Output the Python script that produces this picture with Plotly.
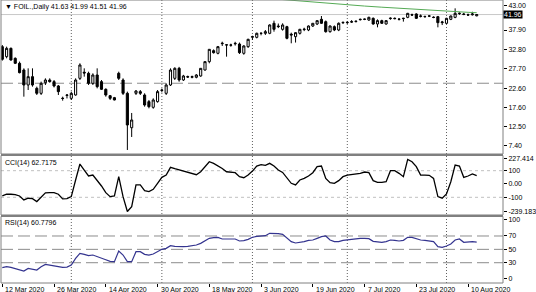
import plotly.graph_objects as go

# ---------------- data (bar index, OHLC) ----------------
opens = [33.52,30.89,33.08,30.45,29.14,27.38,23.44,25.63,22.56,21.25,
         24.05,24.75,24.32,23.18,19.95,20.70,19.93,20.81,25.19,26.80,
         26.51,23.88,26.07,24.32,22.30,20.63,20.11,26.51,24.75,21.25,
         12.20,21.25,21.69,20.81,19.06,17.57,19.06,22.00,21.25,23.44,
         25.19,27.82,24.76,25.63,25.46,25.46,25.81,27.38,29.58,32.47,
         31.77,34.30,33.96,33.90,34.40,34.22,31.77,33.52,36.00,35.97,
         37.00,37.03,37.03,39.66,38.95,38.08,38.78,36.80,36.15,37.03,
         38.00,37.90,38.95,39.48,40.71,40.09,37.46,38.78,37.90,39.80,
         39.83,40.10,40.10,40.60,40.70,40.53,40.97,39.48,40.36,39.48,
         40.90,40.97,40.70,40.90,41.23,41.90,42.11,41.60,41.40,41.60,
         41.25,41.41,39.83,39.66,40.71,41.23,42.20,42.10,41.90,41.90,
         41.63]
highs = [33.96,33.52,33.30,30.70,29.60,27.82,27.82,27.82,23.00,24.32,
         25.19,25.19,24.75,23.44,20.37,21.00,21.69,25.19,29.14,27.82,
         26.94,26.51,27.82,24.75,22.56,20.81,20.30,26.94,25.19,21.69,
         16.08,22.12,22.12,21.25,19.50,19.93,22.12,22.50,23.88,27.82,
         28.10,28.20,26.10,25.90,25.90,26.30,27.90,29.60,32.90,32.80,
         33.70,34.83,34.20,34.30,34.80,34.60,33.90,35.60,36.40,37.20,
         37.30,37.90,39.40,40.36,39.60,39.66,39.00,37.20,37.30,38.20,
         38.50,39.10,39.70,40.40,41.58,40.40,39.10,39.10,39.90,40.10,
         40.20,40.50,40.40,40.90,40.90,41.40,41.20,40.70,40.60,40.50,
         41.20,41.20,41.00,41.10,42.40,42.20,42.30,42.00,41.70,41.80,
         41.50,41.60,40.30,41.10,41.70,43.60,42.50,42.40,42.20,42.70,
         41.99]
lows = [29.84,30.45,29.84,28.95,26.50,20.37,22.12,23.00,20.81,20.81,
        23.44,24.05,22.80,20.81,19.32,19.90,19.50,20.63,24.75,25.63,
        23.44,23.44,22.56,22.12,20.37,19.50,19.40,24.75,20.81,6.35,
        9.77,20.81,20.81,17.74,17.30,17.20,18.80,21.50,20.81,23.18,
        24.75,24.30,24.50,25.30,25.20,25.20,25.60,27.20,29.14,31.70,
        31.50,33.70,30.89,33.50,33.80,31.60,31.40,33.20,35.30,35.70,
        36.50,36.60,36.80,37.46,38.40,37.73,35.45,34.40,34.60,36.70,
        37.60,37.60,38.70,39.20,39.50,37.20,37.20,37.60,37.60,39.50,
        39.50,39.80,39.90,40.40,40.50,40.30,39.30,38.60,39.50,39.30,
        40.60,40.70,40.40,40.10,41.00,41.60,40.80,41.20,41.10,41.30,
        41.00,38.60,39.20,39.50,40.50,41.00,41.90,41.80,41.60,41.70,
        41.51]
closes = [30.19,33.08,30.01,29.14,26.68,23.44,25.63,23.44,21.25,23.88,
          24.75,24.32,23.18,21.69,19.90,20.80,21.25,24.75,28.70,26.60,
          23.88,26.07,23.00,22.30,20.81,19.93,19.50,25.19,21.25,12.92,
          14.24,21.86,21.25,18.18,17.74,19.50,21.69,22.10,23.44,27.38,
          27.82,24.76,25.81,25.55,25.63,26.07,27.82,29.58,32.82,31.94,
          33.52,34.40,34.00,33.96,34.30,31.94,33.70,35.45,36.15,37.03,
          37.03,37.46,39.22,38.08,38.80,39.22,35.71,36.60,37.20,38.08,
          38.10,38.95,39.66,40.36,39.66,37.46,38.95,37.90,39.66,39.90,
          39.90,40.00,40.20,40.70,40.75,41.23,39.48,40.36,39.66,40.36,
          41.00,40.90,40.75,40.97,42.28,41.85,40.97,41.50,41.45,41.55,
          41.20,39.83,40.00,40.97,41.58,42.28,42.30,42.00,41.85,42.10,
          41.96]
bars = list(range(len(closes)))

ma_idx = [64, 68, 72, 76, 80, 84, 88, 92, 96, 100, 104, 108, 110]
ma_val = [46.0, 45.6, 45.2, 44.8, 44.5, 44.2, 43.9, 43.6, 43.3, 43.0, 42.8, 42.55, 42.45]

cci = [-90,-77,-77,-80,-90,-120,-107,-110,-132,-97,
       -67,-65,-65,-77,-112,-110,-95,30,150,105,
       60,67,30,-15,-65,-95,-90,55,-95,-207,
       -170,-7,-7,-50,-57,-40,5,50,67,125,
       115,105,95,85,80,70,92,130,167,155,
       137,117,92,87,85,55,47,67,97,135,
       145,140,155,135,105,87,42,5,-7,30,
       42,60,85,130,135,42,10,5,25,55,
       67,70,75,80,90,85,25,12,12,17,
       100,100,80,55,185,167,130,67,67,65,
       42,-95,-107,-75,17,142,135,50,60,75,62.7175]
rsi = [22.5,24,23,21.5,19.5,17.5,21.5,20.5,19,24,
       27.5,26.5,25.5,24.5,23,23.5,26.5,36.5,44,42.5,
       40.5,41.5,39.5,36.5,34.5,32,31.5,47.5,41.5,31.5,
       31.5,46.5,46.5,42.5,41.5,43,46.5,50,51.5,55.5,
       54.5,54,54,54.5,55,56.5,59,62.5,66.5,67.5,
       68,65.5,65.5,66,65.5,62.5,63,65,68,69.5,
       70,70.5,74,74,73.5,72.5,67.5,61.5,59.5,60,
       61.5,63.5,64,66.5,69,70,64,61.5,61.5,63.5,
       64.5,65,66,66.5,66.5,66,62,61,60.5,61.5,
       64,63.5,62.5,63.5,68,68,65.5,64,63.5,63,
       61.5,54,53,55,58,64,65.5,60.5,61.5,61.5,60.7796]

date_idx = [0, 12, 24, 36, 48, 60, 72, 84, 96, 108]
date_labels = ['12 Mar 2020', '26 Mar 2020', '14 Apr 2020', '30 Apr 2020', '18 May 2020',
               '3 Jun 2020', '19 Jun 2020', '7 Jul 2020', '23 Jul 2020', '10 Aug 2020']
month_sep_idx = [16, 37, 58, 80, 103]

price_ticks = [44.4, 37.9, 32.8, 27.7, 22.6, 17.6, 12.5, 7.4]
price_tick_labels = ['43.00', '37.90', '32.80', '27.70', '22.60', '17.60', '12.50', '7.40']
cci_tick_pos = [188, 100, 0, -100, -210]
cci_tick_labels = ['227.414', '100', '0.00', '-100', '-239.183']
rsi_tick_pos = [94, 70, 50, 30, 7]
rsi_tick_labels = ['100', '70', '50', '30', '0']
rsi_levels = [70, 50, 30]
cci_levels = [100, -100]
hline_price = 23.9
bid = 41.96
title_text = '▼ FOIL.,Daily 41.63 41.99 41.51 41.96'

# ---------------- figure ----------------
FONT = 'Liberation Sans'
GRID = '#808080'
fig = go.Figure()

fig.add_trace(go.Candlestick(
    x=bars, open=opens, high=highs, low=lows, close=closes,
    increasing=dict(line=dict(color='black', width=1), fillcolor='white'),
    decreasing=dict(line=dict(color='black', width=1), fillcolor='black'),
    whiskerwidth=0, xaxis='x', yaxis='y', showlegend=False, hoverinfo='skip'))
fig.add_trace(go.Scatter(x=ma_idx, y=ma_val, mode='lines',
                         line=dict(color='#55aa55', width=1), xaxis='x', yaxis='y',
                         showlegend=False, hoverinfo='skip'))
fig.add_trace(go.Scatter(x=bars, y=cci, mode='lines',
                         line=dict(color='black', width=1.3), xaxis='x', yaxis='y2',
                         showlegend=False, hoverinfo='skip'))
fig.add_trace(go.Scatter(x=bars, y=rsi, mode='lines',
                         line=dict(color='#34348f', width=1.2), xaxis='x', yaxis='y3',
                         showlegend=False, hoverinfo='skip'))

main_dom = [0.4558, 1.0]
cci_dom = [0.2403, 0.4505]
rsi_dom = [0.0, 0.235]

tickfont = dict(family=FONT, size=7, color='black')
yax_common = dict(side='right', anchor='x', showgrid=False, zeroline=False,
                  ticks='outside', ticklen=3, tickcolor='black', tickwidth=1,
                  tickfont=tickfont, fixedrange=True, showline=False)

fig.update_layout(
    width=536, height=292,
    margin=dict(l=1, r=28, t=0, b=9),
    paper_bgcolor='white', plot_bgcolor='white',
    showlegend=False,
    xaxis=dict(domain=[0, 1], range=[-0.3, 116.1], anchor='y3',
               showgrid=False, zeroline=False, showticklabels=False,
               tickvals=date_idx, ticks='outside', ticklen=3, tickcolor='black',
               rangeslider=dict(visible=False), fixedrange=True),
    yaxis=dict(domain=main_dom, range=[5.29, 45.79], tickvals=price_ticks,
               ticktext=price_tick_labels, **yax_common),
    yaxis2=dict(domain=cci_dom, range=[-233, 214], tickvals=cci_tick_pos,
                ticktext=cci_tick_labels, **yax_common),
    yaxis3=dict(domain=rsi_dom, range=[-0.4, 99.2], tickvals=rsi_tick_pos,
                ticktext=rsi_tick_labels, **yax_common),
)

shapes = []
for s in month_sep_idx:
    shapes.append(dict(type='line', xref='x', yref='paper', x0=s, x1=s, y0=0, y1=1,
                       line=dict(color='#606060', width=1, dash='1px,2px'), layer='below'))
shapes.append(dict(type='line', xref='paper', yref='y', x0=0, x1=1, y0=bid, y1=bid,
                   line=dict(color='#c8c8c8', width=1), layer='below'))
shapes.append(dict(type='line', xref='paper', yref='y', x0=0, x1=1, y0=hline_price, y1=hline_price,
                   line=dict(color='#8c8c8c', width=1, dash='12px,5px'), layer='below'))
for lv in cci_levels:
    shapes.append(dict(type='line', xref='paper', yref='y2', x0=0, x1=1, y0=lv, y1=lv,
                       line=dict(color='#c0c0c0', width=1, dash='dot'), layer='below'))
for lv in rsi_levels:
    shapes.append(dict(type='line', xref='paper', yref='y3', x0=0, x1=1, y0=lv, y1=lv,
                       line=dict(color='#8c8c8c', width=1, dash='12px,5px'), layer='below'))
for dom in (main_dom, cci_dom, rsi_dom):
    shapes.append(dict(type='rect', xref='paper', yref='paper', x0=0, x1=1, y0=dom[0], y1=dom[1],
                       line=dict(color=GRID, width=1), fillcolor='rgba(0,0,0,0)'))
for y0, y1 in ((cci_dom[1], main_dom[0]), (rsi_dom[1], cci_dom[0])):
    shapes.append(dict(type='rect', xref='paper', yref='paper', x0=0, x1=1, y0=y0, y1=y1,
                       line=dict(width=0), fillcolor=GRID))
fig.update_layout(shapes=shapes)

ann = []
for i, t in zip(date_idx, date_labels):
    ann.append(dict(x=i, xref='x', y=0, yref='paper', text=t, showarrow=False,
                    xanchor='left', yanchor='top', yshift=-1, xshift=1,
                    font=dict(family=FONT, size=7, color='black')))
ann.append(dict(x=0, xref='paper', y=1, yref='paper', text=title_text, showarrow=False,
                xanchor='left', yanchor='top', xshift=2, yshift=-1,
                font=dict(family=FONT, size=7, color='black')))
ann.append(dict(x=0, xref='paper', y=cci_dom[1], yref='paper', text='CCI(14) 62.7175',
                showarrow=False, xanchor='left', yanchor='top', xshift=2, yshift=-1,
                font=dict(family=FONT, size=7, color='black')))
ann.append(dict(x=0, xref='paper', y=rsi_dom[1], yref='paper', text='RSI(14) 60.7796',
                showarrow=False, xanchor='left', yanchor='top', xshift=2, yshift=-1,
                font=dict(family=FONT, size=7, color='black')))
ann.append(dict(x=1, xref='paper', y=bid, yref='y', text='41.96', showarrow=False,
                xanchor='left', yanchor='middle', xshift=0, bgcolor='black', borderpad=0,
                font=dict(family=FONT, size=7, color='white')))
fig.update_layout(annotations=ann)

fig.write_html('out.html')
